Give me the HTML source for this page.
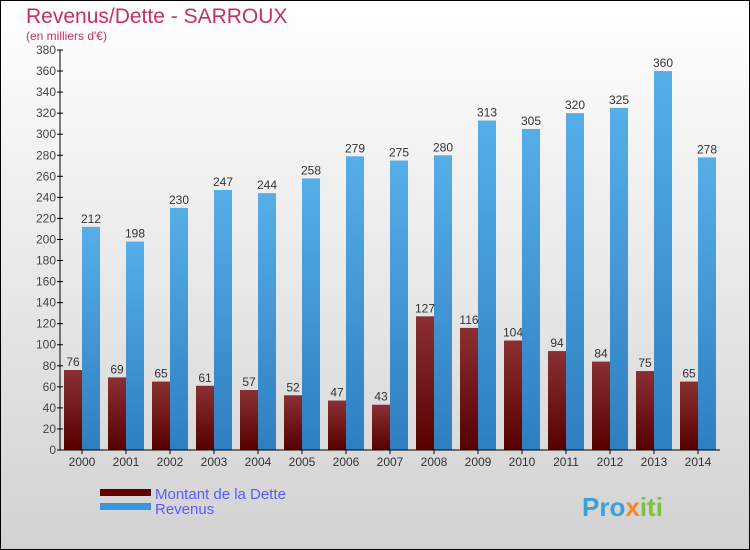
<!DOCTYPE html>
<html><head><meta charset="utf-8"><style>
body{margin:0}
svg{display:block;font-family:"Liberation Sans",sans-serif}
</style></head><body>
<svg width="750" height="550" viewBox="0 0 750 550">
<defs>
<linearGradient id="bg" x1="0" y1="0" x2="0" y2="1"><stop offset="0" stop-color="#ffffff"/><stop offset="1" stop-color="#d2d2d2"/></linearGradient>
<linearGradient id="gd" x1="0" y1="0" x2="0" y2="1"><stop offset="0" stop-color="#8a3034"/><stop offset="1" stop-color="#560000"/></linearGradient>
<linearGradient id="gr" x1="0" y1="0" x2="0" y2="1"><stop offset="0" stop-color="#56aee8"/><stop offset="1" stop-color="#2e7fc0"/></linearGradient>
</defs>
<rect x="0.5" y="0.5" width="749" height="549" fill="url(#bg)" stroke="#000"/>
<text x="26" y="23" font-size="21" fill="#c8305e">Revenus/Dette - SARROUX</text>
<text x="26" y="40" font-size="12" fill="#c8305e">(en milliers d'€)</text>
<g id="plot"></g>
<rect x="100" y="489" width="51" height="7" fill="#600000"/>
<rect x="100" y="503" width="51" height="7" fill="#3597dc"/>
<text x="155" y="499" font-size="15" fill="#5a5aff">Montant de la Dette</text>
<text x="155" y="514" font-size="15" fill="#5a5aff">Revenus</text>
<text x="582" y="516" font-size="26" font-weight="bold" fill="#3aa0d8">Pro<tspan fill="#f08a20">x</tspan><tspan fill="#7cc242">iti</tspan></text>
</svg>
<script>
const years=["2000","2001","2002","2003","2004","2005","2006","2007","2008","2009","2010","2011","2012","2013","2014"];
const dette=[76,69,65,61,57,52,47,43,127,116,104,94,84,75,65];
const revenus=[212,198,230,247,244,258,279,275,280,313,305,320,325,360,278];
const yTicks=[0,20,40,60,80,100,120,140,160,180,200,220,240,260,280,300,320,340,360,380];
const NS="http://www.w3.org/2000/svg";
const g=document.getElementById('plot');
const x0=60,yBase=450,yTop=50,yMax=380,step=44;
const y=v=>yBase-(v/yMax)*(yBase-yTop);
const xg=i=>x0+step*i;
function mk(t,a){const e=document.createElementNS(NS,t);for(const k in a)e.setAttribute(k,a[k]);g.appendChild(e);return e;}
yTicks.forEach(t=>{
 const l=mk('line',{x1:x0-3,x2:x0+3,y1:y(t),y2:y(t),stroke:'#000'});
 
 
 const tx=mk('text',{x:x0-4,y:y(t)+4,'font-size':12,'text-anchor':'end',fill:'#444'});
 tx.textContent=t;
 
 
});
years.forEach((yr,i)=>{
 const gx=xg(i);
 const bd=mk('rect',{x:gx+4,y:y(dette[i]),width:18,height:yBase-y(dette[i]),fill:'url(#gd)'});
 
 
 const br=mk('rect',{x:gx+22,y:y(revenus[i]),width:18,height:yBase-y(revenus[i]),fill:'url(#gr)'});
 
 
 const ld=mk('text',{x:gx+13,y:y(dette[i])-4,'font-size':12,'text-anchor':'middle',fill:'#333'});
 ld.textContent=dette[i];
 
 
 const lr=mk('text',{x:gx+31,y:y(revenus[i])-4,'font-size':12,'text-anchor':'middle',fill:'#333'});
 lr.textContent=revenus[i];
 
 
 const tk=mk('line',{x1:gx+22,x2:gx+22,y1:yBase,y2:yBase+4,stroke:'#000'});
 
 
 const xl=mk('text',{x:gx+22,y:yBase+16,'font-size':12,'text-anchor':'middle',fill:'#333'});
 xl.textContent=yr;
 
 
});
const ax=mk('line',{x1:x0,x2:x0,y1:yTop,y2:yBase,stroke:'#000'});


const axx=mk('line',{x1:x0,x2:720,y1:yBase,y2:yBase,stroke:'#000'});


</script>
</body></html>
